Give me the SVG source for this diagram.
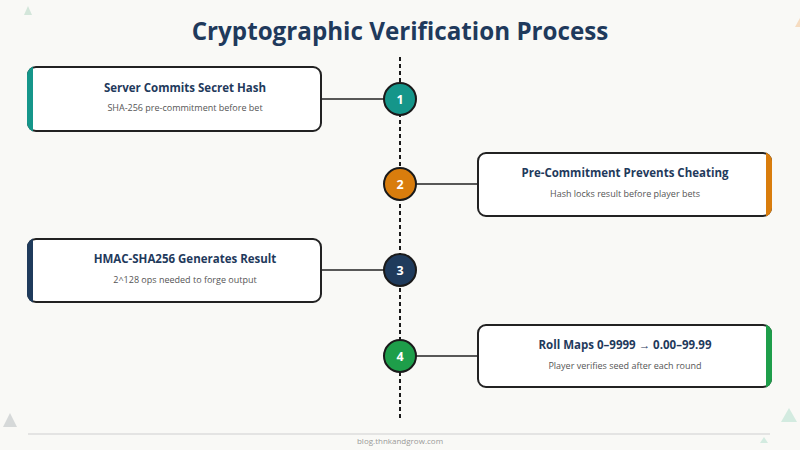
<svg xmlns="http://www.w3.org/2000/svg" width="800" height="450" viewBox="0 0 800 450">
<style>
.title{font-family:"Open Sans","Noto Sans",sans-serif;font-weight:700;font-size:24.2px;fill:#1f3a5c;text-anchor:middle}
.ct{font-family:"Open Sans","Noto Sans",sans-serif;font-weight:700;font-size:11.5px;fill:#1f3a5c;text-anchor:middle}
.cs{font-family:"Open Sans","Noto Sans",sans-serif;font-size:9px;fill:#555;text-anchor:middle}
.card{fill:#fff;stroke:#222;stroke-width:2}
.conn{stroke:#222;stroke-width:1.6;fill:none}
.spine{stroke:#1a1a1a;stroke-width:2;stroke-dasharray:4 3;fill:none}
.dot{stroke:#1a1a1a;stroke-width:2}
.num{font-family:"Open Sans","Noto Sans",sans-serif;font-weight:700;font-size:12.5px;fill:#fff;text-anchor:middle}
.foot{font-family:"Open Sans","Noto Sans",sans-serif;font-size:8px;fill:#999;text-anchor:middle}
</style>
<defs>
<clipPath id="c1"><rect x="27" y="66" width="295" height="66" rx="9"/></clipPath>
<clipPath id="c2"><rect x="477" y="152" width="295" height="65" rx="9"/></clipPath>
<clipPath id="c3"><rect x="27" y="238" width="295" height="65" rx="9"/></clipPath>
<clipPath id="c4"><rect x="477" y="324" width="295" height="64" rx="9"/></clipPath>
</defs>
<rect width="800" height="450" fill="#f9f9f6"/>
<g id="decor">
<polygon points="28,6 32,15 24,15" fill="#d3e6da"/>
<polygon points="800,18 804,27 795,27" fill="#f6dcc0"/>
<polygon points="10,413 17,427 3,427" fill="#d6d9d9"/>
<polygon points="789,408 797,422 781,422" fill="#d3ebe0"/>
<polygon points="764,437 768,443 760,443" fill="#d3ebe0"/>
</g>
<text class="title" x="400" y="40">Cryptographic Verification Process</text>
<g id="connectors">
<line class="spine" x1="400" y1="57" x2="400" y2="419"/>
<line class="conn" x1="321" y1="99" x2="384" y2="99"/>
<line class="conn" x1="416" y1="184" x2="478" y2="184"/>
<line class="conn" x1="321" y1="270" x2="384" y2="270"/>
<line class="conn" x1="416" y1="356" x2="478" y2="356"/>
</g>
<g id="card1">
<rect class="card" x="28" y="67" width="293" height="64" rx="8"/>
<rect x="26" y="64" width="7" height="70" fill="#15968a" clip-path="url(#c1)"/>
<text class="ct" x="185" y="92">Server Commits Secret Hash</text>
<text class="cs" x="185" y="111">SHA-256 pre-commitment before bet</text>
</g>
<g id="card2">
<rect class="card" x="478" y="153" width="293" height="63" rx="8"/>
<rect x="766" y="150" width="8" height="70" fill="#d97d0d" clip-path="url(#c2)"/>
<text class="ct" x="625" y="177">Pre-Commitment Prevents Cheating</text>
<text class="cs" x="625" y="197">Hash locks result before player bets</text>
</g>
<g id="card3">
<rect class="card" x="28" y="239" width="293" height="63" rx="8"/>
<rect x="26" y="236" width="7" height="70" fill="#1f3b5c" clip-path="url(#c3)"/>
<text class="ct" x="185" y="263">HMAC-SHA256 Generates Result</text>
<text class="cs" x="185" y="283">2^128 ops needed to forge output</text>
</g>
<g id="card4">
<rect class="card" x="478" y="325" width="293" height="62" rx="8"/>
<rect x="766" y="322" width="8" height="70" fill="#1e9e4a" clip-path="url(#c4)"/>
<text class="ct" x="625" y="349">Roll Maps 0–9999 → 0.00–99.99</text>
<text class="cs" x="625" y="369">Player verifies seed after each round</text>
</g>
<g id="step1"><circle class="dot" cx="400" cy="99" r="16" fill="#15968a"/><text class="num" x="400" y="104">1</text></g>
<g id="step2"><circle class="dot" cx="400" cy="184" r="16" fill="#d97d0d"/><text class="num" x="400" y="189">2</text></g>
<g id="step3"><circle class="dot" cx="400" cy="270" r="16" fill="#1f3b5c"/><text class="num" x="400" y="275">3</text></g>
<g id="step4"><circle class="dot" cx="400" cy="356" r="16" fill="#1e9e4a"/><text class="num" x="400" y="361">4</text></g>
<g id="footer">
<line x1="28" y1="434" x2="770" y2="434" stroke="#dcdcdc" stroke-width="1.5"/>
<text class="foot" x="400" y="444">blog.thnkandgrow.com</text>
</g>
</svg>
